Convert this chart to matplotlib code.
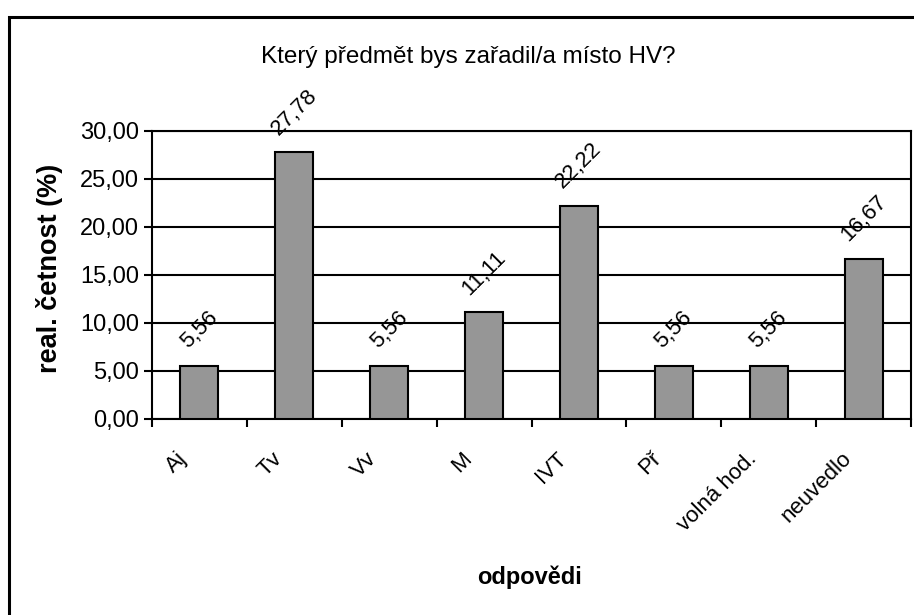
import matplotlib
matplotlib.use('Agg')
import matplotlib.pyplot as plt
import matplotlib.transforms as mtransforms
from matplotlib.patches import Rectangle

# data
categories = ['Aj', 'Tv', 'Vv', 'M', 'IVT', 'Př', 'volná hod.', 'neuvedlo']
values = [5.56, 27.78, 5.56, 11.11, 22.22, 5.56, 5.56, 16.67]
yticks = [0, 5, 10, 15, 20, 25, 30]

plt.rcParams['font.family'] = ['Liberation Sans', 'DejaVu Sans']

W, H = 914, 615
fig = plt.figure(figsize=(W / 100, H / 100), dpi=100)
fig.patch.set_facecolor('white')

# plot area in pixel coords (left, top, right, bottom)
L, T, R, B = 152, 131, 911, 419
ax = fig.add_axes([L / W, 1 - B / H, (R - L) / W, (B - T) / H])

x = list(range(len(values)))
ax.bar(x, values, width=0.4, color='#969696', edgecolor='black', linewidth=1.5, zorder=3)

ax.set_xlim(-0.5, len(values) - 0.5)
ax.set_ylim(0, 30)
ax.set_yticks(yticks)
ax.yaxis.set_major_formatter(matplotlib.ticker.FuncFormatter(lambda v, p: ('%.2f' % v).replace('.', ',')))
ax.tick_params(axis='y', labelsize=17)
ax.grid(axis='y', color='black', linewidth=1.5)
ax.set_axisbelow(True)

# ticks on category borders, labels at centres
ax.set_xticks([i - 0.5 for i in range(len(values) + 1)])
ax.set_xticklabels([])
ax.set_xticks(x, minor=True)
ax.set_xticklabels(categories, minor=True, rotation=45, ha='right', va='top', fontsize=16)
ax.tick_params(axis='x', which='minor', length=0, pad=21)
ax.tick_params(axis='both', which='major', direction='out', length=6, width=1.5, color='black')
shift = mtransforms.ScaledTranslation(-8 / 100, 0, fig.dpi_scale_trans)
for lab in ax.get_xticklabels(minor=True):
    lab.set_transform(lab.get_transform() + shift)

for s in ax.spines.values():
    s.set_linewidth(1.5)
    s.set_color('black')

for i, v in zip(x, values):
    ax.annotate(('%.2f' % v).replace('.', ','), (i, v), xytext=(0, 9.5), textcoords='offset points',
                rotation=45, ha='center', va='bottom', fontsize=16)

fig.text(468 / W, 1 - 57 / H, 'Který předmět bys zařadil/a místo HV?', ha='center', va='center', fontsize=17.5)
fig.text(50 / W, 1 - 268 / H, 'real. četnost (%)', rotation=90, ha='center', va='center',
         fontsize=19.5, fontweight='bold')
fig.text(530 / W, 1 - 577 / H, 'odpovědi', ha='center', va='center', fontsize=17, fontweight='bold')

# chart border (only top/left visible in the crop)
fig.add_artist(Rectangle((8.5 / W, -0.2), 2, 1.2 - 17 / H, transform=fig.transFigure,
                         fill=False, edgecolor='black', linewidth=2.2))

fig.savefig('out.png', dpi=100)
